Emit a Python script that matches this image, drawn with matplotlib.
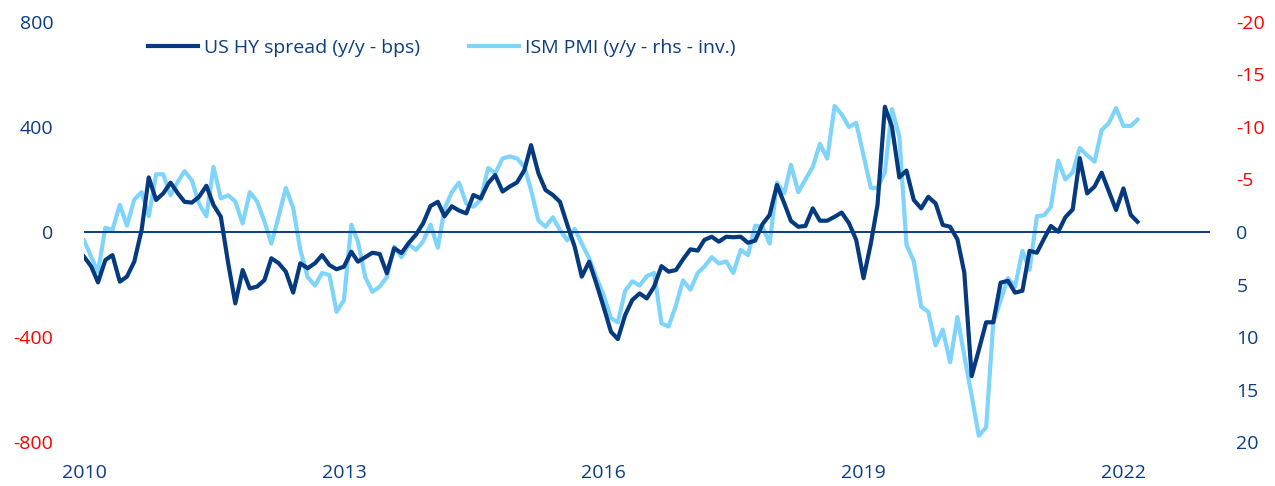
import pandas as pd
import matplotlib
matplotlib.use("Agg")
import matplotlib.pyplot as plt

plt.rcParams['font.family'] = ['Open Sans', 'DejaVu Sans']

# monthly, Jan 2010 - Mar 2022
dates = pd.date_range('2010-01-01', periods=147, freq='MS')

# US HY spread, y/y change in bps (left axis)
hy_spread = [
    -94, -132, -192, -107, -88, -189, -170, -113, 8, 208, 122, 147,
    188, 147, 115, 112, 134, 176, 103, 58, -119, -272, -145, -215,
    -208, -183, -100, -119, -151, -231, -119, -138, -119, -88, -126, -142,
    -132, -75, -113, -96, -79, -84, -157, -62, -80, -42, -10, 33,
    99, 115, 60, 98, 82, 71, 141, 128, 186, 217, 154, 173,
    189, 236, 331, 224, 160, 141, 115, 27, -56, -170, -113, -195,
    -285, -380, -408, -316, -259, -234, -253, -208, -130, -151, -145, -104,
    -66, -71, -30, -18, -37, -18, -20, -18, -41, -33, 30, 65,
    179, 109, 42, 20, 23, 90, 43, 43, 58, 74, 33, -30,
    -176, -43, 103, 477, 401, 208, 234, 122, 90, 134, 109, 27,
    20, -28, -155, -549, -450, -344, -344, -193, -186, -231, -224, -72,
    -79, -24, 23, 1, 56, 86, 281, 147, 173, 226, 154, 84,
    166, 65, 39,
]

# ISM PMI, y/y change in points (right axis, inverted)
ism_pmi = [
    0.8, 2.4, 3.8, -0.4, -0.2, -2.6, -0.6, -3.1, -3.8, -1.5, -5.5, -5.5,
    -3.5, -4.8, -5.8, -4.9, -2.7, -1.5, -6.2, -3.2, -3.5, -2.9, -0.8, -3.8,
    -2.9, -1.0, 1.1, -1.5, -4.2, -2.3, 1.7, 4.3, 5.1, 3.9, 4.1, 7.6,
    6.5, -0.7, 0.9, 4.3, 5.7, 5.2, 4.3, 1.4, 2.4, 1.2, 1.7, 0.9,
    -0.7, 1.5, -2.2, -3.8, -4.7, -2.7, -2.4, -3.1, -6.1, -5.6, -7.0, -7.2,
    -7.0, -6.2, -4.0, -1.1, -0.5, -1.4, -0.2, 0.8, -0.3, 1.1, 2.5, 4.3,
    6.0, 8.2, 8.6, 5.6, 4.7, 5.1, 4.2, 3.9, 8.7, 9.0, 7.0, 4.6,
    5.5, 3.9, 3.3, 2.4, 3.0, 2.8, 3.9, 1.7, 2.2, -0.6, -0.5, 1.1,
    -4.7, -3.7, -6.4, -3.8, -5.0, -6.2, -8.4, -7.0, -12.0, -11.2, -10.0, -10.4,
    -7.3, -4.2, -4.2, -5.7, -11.7, -9.1, 1.2, 2.8, 7.1, 7.6, 10.8, 9.3,
    12.4, 8.1, 11.8, 15.6, 19.4, 18.6, 8.7, 6.5, 4.4, 5.2, 1.8, 3.6,
    -1.5, -1.6, -2.4, -6.8, -5.0, -5.7, -8.0, -7.3, -6.7, -9.7, -10.4, -11.8,
    -10.1, -10.1, -10.7,
]

left_ticks = [-800, -400, 0, 400, 800]
right_ticks = [-20, -15, -10, -5, 0, 5, 10, 15, 20]
year_ticks = ['2010', '2013', '2016', '2019', '2022']

navy = '#0B3C84'
dark_line = '#053A7E'
light_line = '#7FD4FB'
red = '#FF0000'

fig = plt.figure(figsize=(12.75, 4.86), dpi=100)
ax = fig.add_axes([84 / 1275, 44 / 486, 1126 / 1275, 420 / 486])
ax2 = ax.twinx()

l1, = ax.plot(dates, hy_spread, color=dark_line, lw=3.0, label='US HY spread (y/y - bps)', zorder=3)
l2, = ax2.plot(dates, ism_pmi, color=light_line, lw=3.0, label='ISM PMI (y/y - rhs - inv.)', zorder=2)
ax.axhline(0, color=navy, lw=1.4, zorder=1)

ax.set_zorder(ax2.get_zorder() + 1)
ax.patch.set_visible(False)

ax.set_xlim(pd.Timestamp('2010-01-01'), pd.Timestamp('2023-01-01'))
ax.set_ylim(-800, 800)
ax2.set_ylim(20, -20)

ax.set_xticks([pd.Timestamp(y + '-01-01') for y in year_ticks])
ax.set_xticklabels(year_ticks)
ax.set_yticks(left_ticks)
ax.set_yticklabels([str(v) for v in left_ticks])
ax2.set_yticks(right_ticks)
ax2.set_yticklabels([str(v) for v in right_ticks])

for a in (ax, ax2):
    for s in a.spines.values():
        s.set_visible(False)
    a.tick_params(length=0, labelsize=14)

ax.tick_params(axis='x', pad=16, labelcolor=navy)
ax.tick_params(axis='y', pad=22)
ax2.tick_params(axis='y', pad=19)

for lab, v in zip(ax.get_yticklabels(), left_ticks):
    lab.set_color(red if v < 0 else navy)
for lab, v in zip(ax2.get_yticklabels(), right_ticks):
    lab.set_color(red if v < 0 else navy)

leg = ax.legend(handles=[l1, l2], loc='upper left', bbox_to_anchor=(140 / 1275, 1 - 31 / 486),
                bbox_transform=fig.transFigure, ncol=2, frameon=False, fontsize=14,
                handlelength=2.6, handletextpad=0.3, columnspacing=2.5, borderaxespad=0)
for t in leg.get_texts():
    t.set_color(navy)

fig.savefig('out.png', dpi=100)
